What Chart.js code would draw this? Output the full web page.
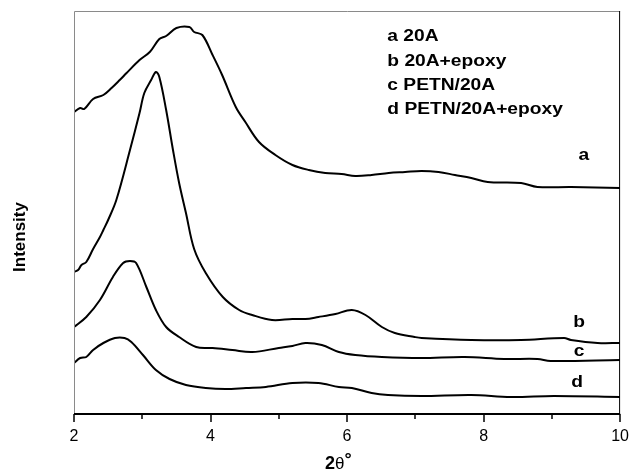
<!DOCTYPE html>
<html>
<head>
  <title>XRD - 20A / epoxy</title>
  <script src="https://cdn.jsdelivr.net/npm/chart.js"></script>
  <style>
    body { margin: 0; background: #fff; }
    canvas { display: block; }
  </style>
</head>
<body>
  <canvas id="chart" width="634" height="474"></canvas>

  <script>
    // traces (2theta in degrees, intensity in arbitrary offset units)
    const thetaA = [2.00, 2.09, 2.15, 2.28, 2.43, 2.55, 2.67, 2.77, 2.96, 3.11, 3.25, 3.35, 3.50, 3.69, 3.76, 3.88, 4.03, 4.17, 4.37, 4.51, 4.71, 4.95, 5.20, 5.44, 5.68, 5.92, 6.12, 6.36, 6.61, 6.85, 7.09, 7.34, 7.58, 7.82, 8.06, 8.55, 8.79, 9.28, 10.0];
    const intA   = [302, 306, 305, 315, 319, 326, 334, 341, 354, 362, 375, 378, 386, 387, 382, 379, 359, 339, 307, 292, 272, 259, 249, 244, 241, 240, 238, 239, 241, 242, 243, 242, 239, 236, 232, 231, 227, 227, 226];

    const thetaB = [2.00, 2.06, 2.11, 2.18, 2.28, 2.38, 2.43, 2.50, 2.62, 2.82, 2.96, 3.03, 3.13, 3.20, 3.25, 3.35, 3.45, 3.54, 3.64, 3.76, 3.93, 4.18, 4.42, 4.61, 4.90, 5.20, 5.39, 5.58, 5.83, 6.07, 6.27, 6.51, 6.70, 6.99, 7.09, 7.82, 8.55, 9.18, 9.28, 9.67, 10.0];
    const intB   = [142, 144, 149, 152, 165, 177, 184, 194, 214, 264, 301, 321, 334, 342, 337, 304, 264, 231, 201, 165, 141, 117, 104, 99, 94, 95, 95, 97, 100, 104, 99, 87, 81, 77, 76, 74, 74, 76, 74, 71, 71];

    const thetaC = [2.00, 2.18, 2.38, 2.57, 2.72, 2.82, 2.91, 3.06, 3.20, 3.35, 3.54, 3.79, 4.03, 4.32, 4.61, 5.00, 5.20, 5.39, 5.63, 5.88, 6.12, 6.51, 7.09, 7.72, 8.30, 8.79, 8.98, 10.0];
    const intC   = [87, 97, 114, 137, 151, 153, 151, 127, 104, 87, 77, 67, 66, 64, 62, 66, 68, 71, 69, 62, 59, 57, 56, 57, 55, 55, 53, 54];

    const thetaD = [2.00, 2.09, 2.18, 2.28, 2.43, 2.60, 2.74, 2.84, 3.01, 3.20, 3.40, 3.64, 3.93, 4.22, 4.52, 4.81, 5.20, 5.58, 5.88, 6.07, 6.36, 6.60, 7.09, 7.82, 8.40, 9.03, 10.0];
    const intD   = [51, 56, 57, 64, 71, 76, 76, 72, 59, 44, 35, 29, 26, 25, 26, 27, 31, 31, 27, 26, 21, 19, 18, 19, 17, 18, 17];

    const legendLines = ["a 20A", "b 20A+epoxy", "c PETN/20A", "d PETN/20A+epoxy"];
    // curve tags: letter, 2theta, intensity where the letter sits
    const tagText  = ["a", "b", "c", "d"];
    const tagTheta = [9.47, 9.40, 9.40, 9.37];
    const tagInt   = [258, 91, 62, 31];

    const FONT = "'Liberation Sans', Arial, sans-serif";

    function pts(xs, ys) {
      return xs.map((v, i) => ({ x: v, y: ys[i] }));
    }

    function trace(xs, ys) {
      return {
        data: pts(xs, ys),
        borderColor: "#000",
        borderWidth: 2,
        pointRadius: 0,
        tension: 0.35,
        fill: false
      };
    }

    // frame, minor/major ticks, axis titles and the text labels
    const decor = {
      id: "decor",
      afterDraw(chart) {
        const { ctx, chartArea: a, scales: { x, y } } = chart;
        ctx.save();

        ctx.lineWidth = 1;
        ctx.strokeStyle = "#8a8a8a";
        ctx.beginPath();
        ctx.moveTo(a.left + 0.5, a.bottom);
        ctx.lineTo(a.left + 0.5, a.top + 0.5);
        ctx.lineTo(a.right, a.top + 0.5);
        ctx.stroke();

        ctx.strokeStyle = "#000";
        ctx.beginPath();
        ctx.moveTo(a.right - 0.5, a.top);
        ctx.lineTo(a.right - 0.5, a.bottom);
        ctx.stroke();

        ctx.lineWidth = 2;
        ctx.beginPath();
        ctx.moveTo(a.left, a.bottom);
        ctx.lineTo(a.right, a.bottom);
        ctx.stroke();

        ctx.lineWidth = 1.5;
        ctx.beginPath();
        x.ticks.forEach(t => {
          const px = Math.round(x.getPixelForValue(t.value));
          const len = t.value % 2 === 0 ? 8 : 5;
          ctx.moveTo(px, a.bottom);
          ctx.lineTo(px, a.bottom + len);
        });
        ctx.stroke();

        ctx.fillStyle = "#000";

        // legend block and curve tags, slightly wide like the original
        ctx.font = "bold 16px " + FONT;
        ctx.textBaseline = "middle";
        ctx.textAlign = "left";
        const lx = x.getPixelForValue(6.59);
        legendLines.forEach((s, i) => {
          const ly = y.getPixelForValue(377 - i * 24.3);
          ctx.save();
          ctx.translate(lx, ly);
          ctx.scale(1.2, 1);
          ctx.fillText(s, 0, 0);
          ctx.restore();
        });
        tagText.forEach((s, i) => {
          ctx.save();
          ctx.translate(x.getPixelForValue(tagTheta[i]), y.getPixelForValue(tagInt[i]));
          ctx.scale(1.2, 1);
          ctx.textAlign = "center";
          ctx.fillText(s, 0, 0);
          ctx.restore();
        });

        // y title
        ctx.save();
        ctx.translate(20, 237);
        ctx.rotate(-Math.PI / 2);
        ctx.textAlign = "center";
        ctx.font = "bold 17px " + FONT;
        ctx.fillText("Intensity", 0, 0);
        ctx.restore();

        // x title: 2 (bold) theta (regular) degree (bold)
        const tx = 325, ty = 464;
        ctx.textAlign = "left";
        ctx.font = "bold 18px " + FONT;
        ctx.fillText("2", tx, ty);
        let w = ctx.measureText("2").width;
        ctx.font = "17px " + FONT;
        ctx.fillText("θ", tx + w, ty);
        w += ctx.measureText("θ").width;
        ctx.font = "bold 18px " + FONT;
        ctx.fillText("°", tx + w, ty - 4);

        ctx.restore();
      }
    };

    const chart = new Chart(document.getElementById("chart").getContext("2d"), {
      type: "line",
      data: {
        datasets: [
          trace(thetaA, intA),
          trace(thetaB, intB),
          trace(thetaC, intC),
          trace(thetaD, intD)
        ]
      },
      options: {
        responsive: false,
        animation: false,
        layout: { padding: { left: 74, top: 11, right: 11, bottom: 0 } },
        plugins: { legend: { display: false }, tooltip: { enabled: false } },
        scales: {
          x: {
            type: "linear",
            min: 2,
            max: 10,
            afterFit: s => { s.height = 60; },
            grid: { display: false, drawTicks: true, tickLength: 8 },
            border: { display: false },
            ticks: {
              stepSize: 1,
              autoSkip: false,
              maxRotation: 0,
              padding: 5,
              color: "#000",
              font: { size: 16, family: FONT },
              callback: v => (v % 2 === 0 ? v : "")
            }
          },
          y: {
            display: false,
            min: 0,
            max: 403
          }
        }
      },
      plugins: [decor]
    });
  </script>
</body>
</html>
